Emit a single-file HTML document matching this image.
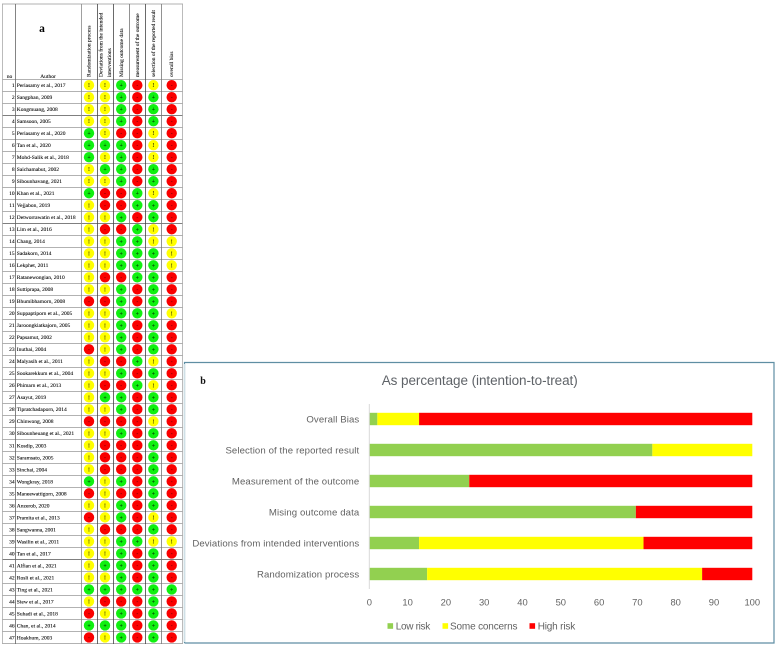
<!DOCTYPE html>
<html lang="en">
<head>
<meta charset="utf-8">
<title>Risk of bias assessment</title>
<style>
html,body{margin:0;padding:0;background:#fff;width:781px;height:646px;overflow:hidden}
svg{display:block}
#matrix{filter:blur(0.35px)}
#chart{filter:blur(0.3px)}
</style>
</head>
<body>
<svg id="root" xmlns="http://www.w3.org/2000/svg" width="781" height="646" viewBox="0 0 781 646">
  <g id="matrix"></g>
  <g id="chart"></g>
</svg>
<script>
// Panel a: study names and judgements per domain (y = some concerns, g = low risk, r = high risk)
const authors = ["Periasamy et al., 2017","Sangphan, 2009","Kongmuang, 2008","Samsoon, 2005","Periasamy et al., 2020","Tan et al., 2020","Mohd-Salik et al., 2018","Saichamabut, 2002","Sibounhavang, 2021","Khan et al., 2021","Vejjabon, 2019","Detworrawatin et al., 2018","Lim et al., 2016","Chang, 2014","Sadakorn, 2014","Lekphet, 2011","Ratanewongian, 2010","Suttiprapa, 2008","Bhumibhamorn, 2008","Suppaptiporn et al., 2005","Jaroongkiatkajorn, 2005","Papsamut, 2002","Inuthai, 2004","Malyasih et al., 2011","Sookarekkum et al., 2004","Phimarn et al., 2013","Asayut, 2019","Tipratchadaporn, 2014","Chinwong, 2008","Sibounheuang et al., 2021","Kosdip, 2003","Saramsato, 2005","Sinchai, 2004","Wongkray, 2018","Maneewattigorn, 2008","Anzerob, 2020","Pramita et al., 2013","Sangwanna, 2001","Wasilin et al., 2011","Tan et al., 2017","Alfian et al., 2021","Rosli et al., 2021","Ting et al., 2021","Siew et al., 2017","Suhadi et al., 2018","Chan, et al., 2014","Hoakhum, 2003"];
const randomization = ["y","y","y","y","g","g","g","y","y","g","y","y","y","y","y","y","y","y","r","y","y","y","r","y","y","y","y","y","r","y","y","y","y","g","r","y","r","y","y","y","y","y","g","y","r","g","r"];
const deviations = ["y","y","y","y","y","g","y","g","y","r","r","y","r","y","y","y","r","y","r","y","y","y","y","r","y","r","g","y","r","y","r","r","r","y","y","y","y","r","y","y","g","y","g","r","y","g","y"];
const missingData = ["g","g","g","g","r","g","g","g","g","r","r","g","r","g","g","g","r","g","g","g","g","g","g","r","g","r","g","g","r","g","r","r","r","g","r","g","g","r","g","g","g","g","g","r","g","g","g"];
const measurement = ["r","r","r","r","r","r","r","r","r","g","g","r","g","g","g","g","g","r","r","g","r","r","r","g","r","g","r","r","r","r","r","r","r","r","r","r","r","r","g","r","r","r","g","r","r","r","r"];
const selection = ["y","g","g","g","y","y","y","g","g","y","g","g","y","y","g","g","g","g","g","g","g","g","g","y","g","y","g","g","y","g","g","g","g","g","g","g","y","g","y","g","g","g","g","g","g","g","g"];
const overall = ["r","r","r","r","r","r","r","r","r","r","r","r","r","y","y","y","r","r","r","y","r","r","r","r","r","r","r","r","r","r","r","r","r","r","r","r","r","r","y","r","r","r","g","r","r","r","r"];

// Panel b: stacked percentages, top to bottom
const categories = ["Overall Bias","Selection of the reported result","Measurement of the outcome","Mising outcome data","Deviations from intended interventions","Randomization process"];
const lowRisk = [2.1, 73.9, 26.1, 69.6, 13.0, 15.1];
const someConcerns = [10.9, 26.1, 0, 0, 58.6, 71.8];
const highRisk = [87.0, 0, 73.9, 30.4, 28.4, 13.1];
const xTicks = [0, 10, 20, 30, 40, 50, 60, 70, 80, 90, 100];

const NS = "http://www.w3.org/2000/svg";
const matrix = document.getElementById("matrix");
const chart = document.getElementById("chart");

function make(tag, parent, attrs, text) {
  const el = document.createElementNS(NS, tag);
  for (const k in attrs) el.setAttribute(k, attrs[k]);
  if (text !== undefined) el.textContent = text;
  parent.appendChild(el);
  return el;
}

/* ---------- panel a ---------- */
const domainArrays = [randomization, deviations, missingData, measurement, selection, overall];
const domainSlugs = ["randomization", "deviations", "missing-data", "measurement", "selection", "overall"];
const colCenter = c => [89, 105, 121.2, 137.3, 153.4, 171.7][c];
const rowCenter = i => 85.2 + i * 12.005;
const judgementFill = { y: "#ffff00", g: "#10f010", r: "#fa0000" };
const judgementGlyph = { y: "!", g: "+", r: "-" };
const judgementInk = { y: "#333300", g: "#003300", r: "#660000" };
const serifFont = '"Liberation Serif", serif';
const tinyInk = "#000000";

const matrixBg = make("rect", matrix, { x: 2, y: 4, width: 181, height: 640, fill: "#ffffff" });



// horizontal rules
for (let i = 0; i <= authors.length; i++) {
  const y = Math.round(rowCenter(i) - 6) + 0.5;
  const dark = (i === 3 || i === 12 || i === 40);
  const rule = make("line", matrix, { x1: 2, x2: 183, y1: y, y2: y, stroke: dark ? "#555" : "#999", "stroke-width": 0.8 });
  
  
}
const topRule = make("line", matrix, { x1: 2, x2: 183, y1: 4, y2: 4, stroke: "#999", "stroke-width": 0.8 });



// vertical rules
[[2.5, "#aaa"], [15.5, "#666"], [81.5, "#888"], [97.5, "#444"], [113.5, "#444"], [129.5, "#777"], [145.5, "#444"], [161.5, "#777"], [182.5, "#aaa"]].forEach(pair => {
  const rule = make("line", matrix, { x1: pair[0], x2: pair[0], y1: 4, y2: 644, stroke: pair[1], "stroke-width": 0.8 });
  
  
});

// header labels
const panelA = make("text", matrix, { x: 42, y: 32, "font-family": serifFont, "font-size": 11.5, "font-weight": "bold", "text-anchor": "middle", fill: "#000" }, "a");


const noHead = make("text", matrix, { x: 9.5, y: 78, "font-family": serifFont, "font-size": 5.5, "text-anchor": "middle", fill: tinyInk, stroke: tinyInk, "stroke-width": 0.08 }, "no");


const authorHead = make("text", matrix, { x: 48, y: 78, "font-family": serifFont, "font-size": 5.5, "text-anchor": "middle", fill: tinyInk, stroke: tinyInk, "stroke-width": 0.08 }, "Author");



[[90.5, "Randomization process"], [102.5, "Deviations from the intended"], [110.8, "interventions"], [123.2, "Missing outcome data"], [139.2, "measurement of the outcome"], [154.8, "selection of the reported result"], [173.2, "overall bias"]].forEach(h => {
  const t = make("text", matrix, { transform: "translate(" + h[0] + ",77) rotate(-90)", "font-family": serifFont, "font-size": 5.5, fill: tinyInk, stroke: tinyInk, "stroke-width": 0.08 }, h[1]);
  
  
});

// study rows
authors.forEach((name, i) => {
  const y = rowCenter(i);
  const num = make("text", matrix, { x: 14.6, y: y + 1.9, "font-family": serifFont, "font-size": 5.5, "text-anchor": "end", fill: tinyInk, stroke: tinyInk, "stroke-width": 0.08 }, String(i + 1));
  
  
  const label = make("text", matrix, { x: 16.8, y: y + 1.9, "font-family": serifFont, "font-size": 5.5, fill: tinyInk, stroke: tinyInk, "stroke-width": 0.08 }, name);
  
  
  domainArrays.forEach((arr, c) => {
    const v = arr[i];
    const dot = make("circle", matrix, { cx: colCenter(c), cy: y, r: 5.2, fill: judgementFill[v] });
    
    
    const glyph = make("text", matrix, { x: colCenter(c), y: y + 2, "font-family": serifFont, "font-size": 5.8, "font-weight": "bold", "text-anchor": "middle", fill: judgementInk[v] }, judgementGlyph[v]);
    
    
  });
});

/* ---------- panel b ---------- */
const x0 = 369.3, x100 = 752.3;
const xScale = v => x0 + (x100 - x0) * v / 100;
const bandCenter = i => 419 + i * 31;
const barHeight = 12.4;
const labelInk = "#626262";
const sansFont = '"Liberation Sans", sans-serif';

const frameFill = make("rect", chart, { x: 184.5, y: 362, width: 589.5, height: 281, fill: "#ffffff" });


const frame = make("path", chart, { d: "M184.5 643 V362.5 H774 V643 H184.5", fill: "none", stroke: "#5f8ea3", "stroke-width": 1.2 });


const frameLeft = make("line", chart, { x1: 184.5, x2: 184.5, y1: 364, y2: 642, stroke: "#cfe0e6", "stroke-width": 1.4 });



const panelB = make("text", chart, { x: 203, y: 384, "font-family": serifFont, "font-size": 10, "font-weight": "bold", "text-anchor": "middle", fill: "#111" }, "b");



const title = make("text", chart, { x: 381.7, y: 385, "font-family": sansFont, "font-size": 13.5, fill: "#5f6368", textLength: 196, lengthAdjust: "spacing" }, "As percentage (intention-to-treat)");



const series = [
  { values: lowRisk, color: "#92d050", slug: "low-risk" },
  { values: someConcerns, color: "#ffff00", slug: "some-concerns" },
  { values: highRisk, color: "#ff0000", slug: "high-risk" }
];

categories.forEach((cat, i) => {
  const cy = bandCenter(i);
  const lab = make("text", chart, { x: 359.3, y: cy + 3.4, "font-family": sansFont, "font-size": 9.6, "text-anchor": "end", fill: labelInk, "letter-spacing": 0.1 }, cat);
  
  
  let acc = 0;
  series.forEach(s => {
    const v = s.values[i];
    if (v > 0) {
      const bar = make("rect", chart, { x: xScale(acc), y: cy - barHeight / 2, width: xScale(acc + v) - xScale(acc), height: barHeight, fill: s.color });
      
      
    }
    acc += v;
  });
});

const axisLine = make("line", chart, { x1: x0, x2: x0, y1: 404, y2: 589, stroke: "#d9d9d9", "stroke-width": 1 });



xTicks.forEach(t => {
  const tick = make("text", chart, { x: xScale(t), y: 605.4, "font-family": sansFont, "font-size": 9.4, "text-anchor": "middle", fill: labelInk }, String(t));
  
  
});

[["Low risk", "#92d050", 387.5, 395.7, 34.5, "legend-low-risk"],
 ["Some concerns", "#ffff00", 442.5, 450, 67.5, "legend-some-concerns"],
 ["High risk", "#ff0000", 529.5, 537.7, 37.5, "legend-high-risk"]].forEach(e => {
  const swatch = make("rect", chart, { x: e[2], y: 623.2, width: 5.6, height: 5.6, fill: e[1] });
  
  
  const text = make("text", chart, { x: e[3], y: 629.5, "font-family": sansFont, "font-size": 10, fill: labelInk, textLength: e[4], lengthAdjust: "spacing" }, e[0]);
  
  
});
</script>
</body>
</html>
